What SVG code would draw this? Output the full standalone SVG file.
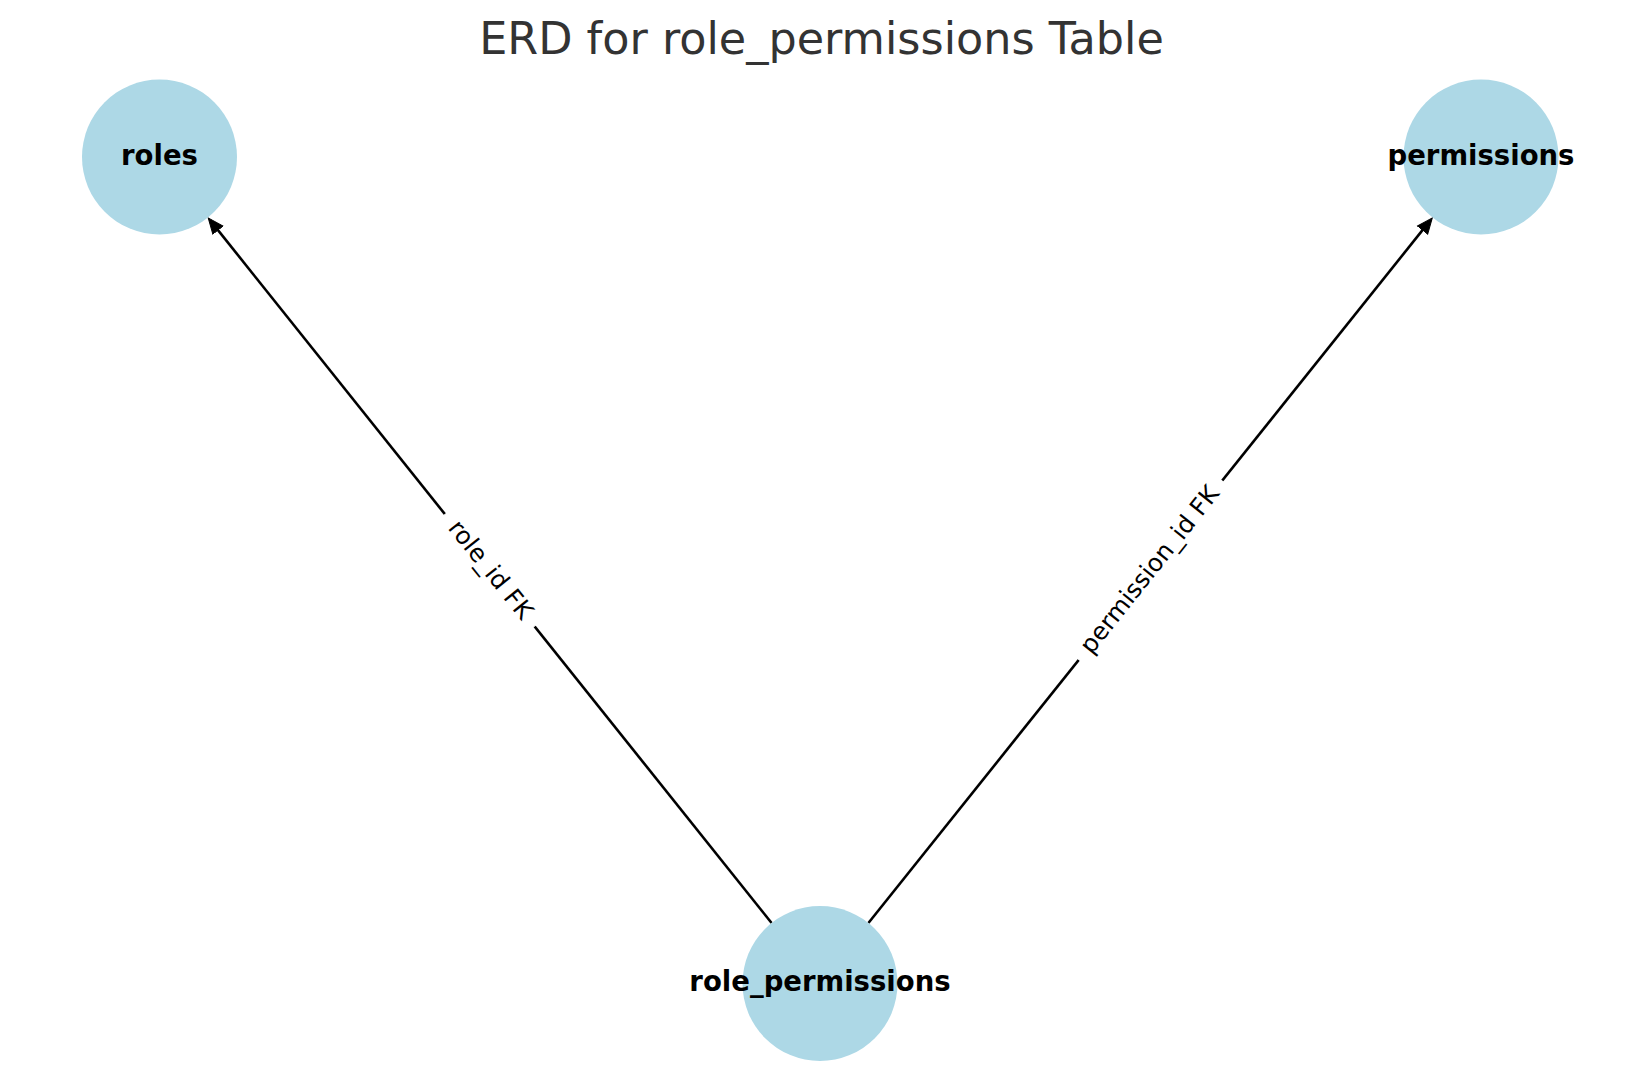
<svg xmlns="http://www.w3.org/2000/svg" width="1639" height="1090" viewBox="0 0 1639 1090">
<style>
.node{fill:#add8e6;}
.nlabel{font-family:"DejaVu Sans",sans-serif;font-weight:bold;font-size:27.5px;fill:#000;text-anchor:middle;}
.edge{stroke:#000;stroke-width:2.6;fill:none;}
.elabel{font-family:"DejaVu Sans",sans-serif;font-size:24.5px;fill:#000;text-anchor:middle;}
.lbox{fill:#fff;stroke:#fff;}
.title{font-family:"DejaVu Sans",sans-serif;font-size:44.5px;fill:#333333;text-anchor:middle;}
</style>
<defs>
<marker id="arrow" markerUnits="userSpaceOnUse" markerWidth="18" markerHeight="16" viewBox="0 0 18 16" refX="9" refY="8" orient="auto">
<path d="M0.5,1.5 L16,8 L0.5,14.5 z" fill="#000" stroke="#000" stroke-width="1" stroke-linejoin="miter"/>
</marker>
</defs>
<rect width="1639" height="1090" fill="#fff"/>
<text class="title" x="821.5" y="54">ERD for role_permissions Table</text>
<g id="connectors">
<g id="edge-role_permissions-roles">
<line class="edge" x1="771.6" y1="923.0" x2="212.6" y2="223.4" marker-end="url(#arrow)"/>
<g transform="translate(489.75,570.25) rotate(51.37)">
<rect class="lbox" x="-71.5" y="-20" width="143" height="40" rx="8"/>
<text class="elabel" x="0" y="7">role_id FK</text>
</g>
</g>
<g id="edge-role_permissions-permissions">
<line class="edge" x1="868.4" y1="923.0" x2="1427.9" y2="223.4" marker-end="url(#arrow)"/>
<g transform="translate(1150.5,570.25) rotate(-51.37)">
<rect class="lbox" x="-114.5" y="-20" width="229" height="40" rx="8"/>
<text class="elabel" x="0" y="7">permission_id FK</text>
</g>
</g>
</g>
<g id="node-roles">
<circle class="node" cx="159.5" cy="157" r="77.5"/>
<text class="nlabel" x="159.5" y="164.5">roles</text>
</g>
<g id="node-permissions">
<circle class="node" cx="1481" cy="157" r="77.5"/>
<text class="nlabel" x="1481" y="164.5">permissions</text>
</g>
<g id="node-role_permissions">
<circle class="node" cx="820" cy="983.5" r="77.5"/>
<text class="nlabel" x="820" y="991">role_permissions</text>
</g>
</svg>
